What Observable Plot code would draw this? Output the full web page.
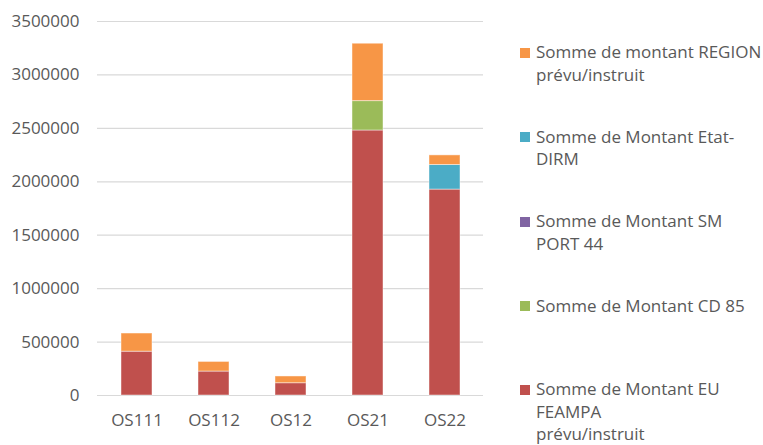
<!DOCTYPE html>
<html>
<head>
<meta charset="utf-8">
<script src="https://cdn.jsdelivr.net/npm/d3@7"></script>
<script src="https://cdn.jsdelivr.net/npm/@observablehq/plot@0.6"></script>
<style>
  html, body { margin: 0; padding: 0; background: #fff; }
  #wrap { position: relative; width: 763px; height: 445px; font-family: "Open Sans", sans-serif; }
  #legend { position: absolute; left: 520px; top: 0; width: 243px; color: #595959; font-size: 17px; }
  .item { position: absolute; left: 0; line-height: 22.5px; }
  .sw { position: absolute; left: 0; top: 6.5px; width: 10px; height: 10px; }
  .txt { position: absolute; left: 16px; white-space: nowrap; }
</style>
</head>
<body>
<div id="wrap"><div id="chart"></div><div id="legend"></div></div>
<script>
const categories = ["OS111", "OS112", "OS12", "OS21", "OS22"];
// stacking order bottom -> top
const seriesNames = [
  "Somme de Montant EU FEAMPA prévu/instruit",
  "Somme de Montant CD 85",
  "Somme de Montant SM PORT 44",
  "Somme de Montant Etat-DIRM",
  "Somme de montant REGION prévu/instruit"
];
const euFeampa   = [410000, 224000, 115000, 2480000, 1927000];
const cd85       = [0, 0, 0, 275000, 0];
const smPort44   = [0, 0, 0, 0, 0];
const etatDirm   = [0, 0, 0, 0, 230000];
const region     = [170000, 90000, 63000, 537000, 90000];
const seriesColors = ["#C0504D", "#9BBB59", "#8064A2", "#4BACC6", "#F79646"];
const yTicks = [0, 500000, 1000000, 1500000, 2000000, 2500000, 3000000, 3500000];
// legend order (top -> bottom) with line breaks
const legendOrder = [4, 3, 2, 1, 0];
const legendLines = [
  ["Somme de Montant EU", "FEAMPA", "prévu/instruit"],
  ["Somme de Montant CD 85"],
  ["Somme de Montant SM", "PORT 44"],
  ["Somme de Montant Etat-", "DIRM"],
  ["Somme de montant REGION", "prévu/instruit"]
];

const seriesValues = [euFeampa, cd85, smPort44, etatDirm, region];
const rows = [];
categories.forEach((c, i) => {
  seriesValues.forEach((vals, s) => {
    if (vals[i] > 0) rows.push({cat: c, series: seriesNames[s], value: vals[i]});
  });
});

const chart = Plot.plot({
  width: 763,
  height: 445,
  marginLeft: 97,
  marginRight: 280,
  marginTop: 21,
  marginBottom: 50,
  style: {fontFamily: "Open Sans, sans-serif", fontSize: "17px", color: "#595959", background: "white"},
  x: {domain: categories, paddingInner: 0.6, paddingOuter: 0.3, label: null, tickSize: 0, tickPadding: 18},
  y: {domain: [0, 3500000], ticks: yTicks, tickFormat: d => String(d), label: null, tickSize: 0, tickPadding: 18},
  color: {domain: seriesNames, range: seriesColors},
  marks: [
    Plot.ruleY(yTicks, {stroke: "#d9d9d9", strokeWidth: 1.2}),
    Plot.barY(rows, {x: "cat", y: "value", fill: "series", order: seriesNames, stroke: "white", strokeOpacity: 0.45, strokeWidth: 1})
  ]
});
document.getElementById("chart").appendChild(chart);

const legend = document.getElementById("legend");
const itemTops = [52.5, 137, 221.5, 306, 389.5];
legendOrder.forEach((s, k) => {
  const item = document.createElement("div");
  item.className = "item";
  item.style.top = (itemTops[k] - 11.25) + "px";
  const sw = document.createElement("div");
  sw.className = "sw";
  sw.style.background = seriesColors[s];
  const txt = document.createElement("div");
  txt.className = "txt";
  txt.innerHTML = legendLines[s].join("<br>");
  item.appendChild(sw);
  item.appendChild(txt);
  legend.appendChild(item);
});
</script>
</body>
</html>
